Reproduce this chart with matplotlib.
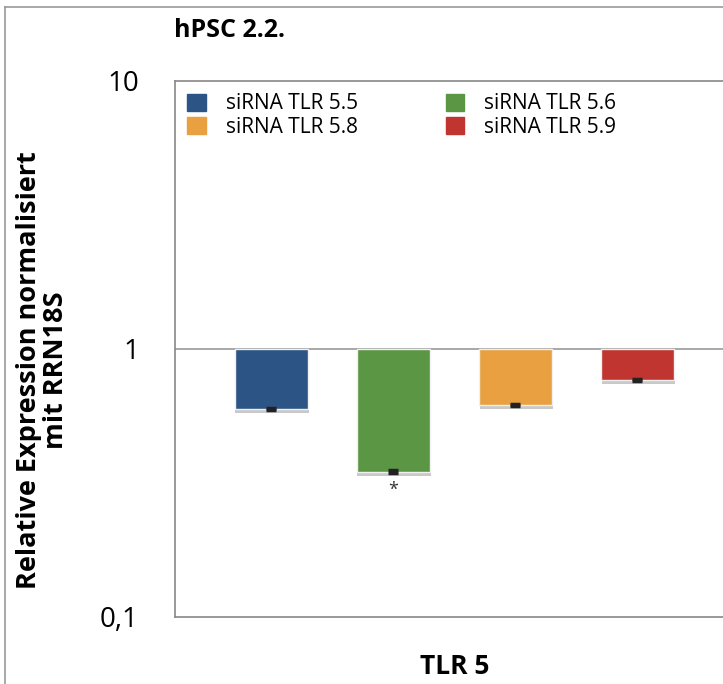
import matplotlib.pyplot as plt
import matplotlib.patheffects as pe
from matplotlib.lines import Line2D
from matplotlib.ticker import FixedLocator, FixedFormatter

groups = ['siRNA TLR 5.5', 'siRNA TLR 5.6', 'siRNA TLR 5.8', 'siRNA TLR 5.9']
values = [0.597, 0.348, 0.62, 0.766]
errors = [0.005, 0.004, 0.005, 0.005]
colors = ['#2c5586', '#5b9645', '#e8a040', '#c03530']
stars = ['', '*', '', '']

plt.rcParams['font.family'] = ['Open Sans', 'DejaVu Sans']

fig = plt.figure(figsize=(7.23, 6.84), dpi=100)
ax = fig.add_axes([0.242, 0.098, 0.773, 0.7836])

x = list(range(len(groups)))
base = 1.0
heights = [v - base for v in values]
bars = ax.bar(x, heights, bottom=base, width=0.6, color=colors,
              edgecolor='#f0f0f0', linewidth=1, zorder=3)
for b in bars:
    b.set_path_effects([pe.SimplePatchShadow(offset=(0.5, -3), alpha=0.35,
                                             shadow_rgbFace='#666666'),
                        pe.Normal()])
ax.errorbar(x, values, yerr=errors, fmt='none', ecolor='#222222',
            elinewidth=1, capsize=3.5, capthick=2.5, zorder=4)

for xi, v, s in zip(x, values, stars):
    if s:
        ax.text(xi, v * 0.86, s, ha='center', va='center', fontsize=13,
                color='#333333', zorder=5)

ax.axhline(1, color='#999999', lw=1.2, zorder=1)

ax.set_yscale('log')
ax.set_ylim(0.1, 10)
ax.set_xlim(-0.79, 3.79)
ax.yaxis.set_major_locator(FixedLocator([0.1, 1, 10]))
ax.yaxis.set_major_formatter(FixedFormatter(['0,1', '1', '10']))
ax.yaxis.set_minor_locator(FixedLocator([]))
ax.tick_params(axis='y', length=0, labelsize=20, pad=26)
ax.set_xticks([])

for side in ['top', 'left', 'bottom', 'right']:
    ax.spines[side].set_color('#888888')
    ax.spines[side].set_linewidth(1.2)

ax.set_ylabel('Relative Expression normalisiert\nmit RRN18S', fontsize=19.5,
              fontweight='bold', linespacing=1.05)
ax.yaxis.set_label_coords(-0.19, 0.46)

fig.text(0.6285, 0.025, 'TLR 5', fontsize=19, fontweight='bold',
         ha='center', va='center')

handles = [plt.Rectangle((0, 0), 1, 1, color=c) for c in colors]
order = [0, 2, 1, 3]
ax.legend([handles[i] for i in order], [groups[i] for i in order], ncol=2,
          loc='upper left', bbox_to_anchor=(0.0, 1.0), frameon=False,
          fontsize=15, handlelength=0.9, handleheight=0.9, handletextpad=0.95,
          columnspacing=4.2, labelspacing=0.1, borderaxespad=0.2)

fig.text(0.24, 0.955, 'hPSC 2.2.', fontsize=18, fontweight='bold', va='center')

fig.add_artist(Line2D([0.007, 0.007], [0, 0.99], color='#999999', lw=1.2))
fig.add_artist(Line2D([0.007, 1.0], [0.99, 0.99], color='#999999', lw=1.2))

plt.savefig('out.png', dpi=100)
